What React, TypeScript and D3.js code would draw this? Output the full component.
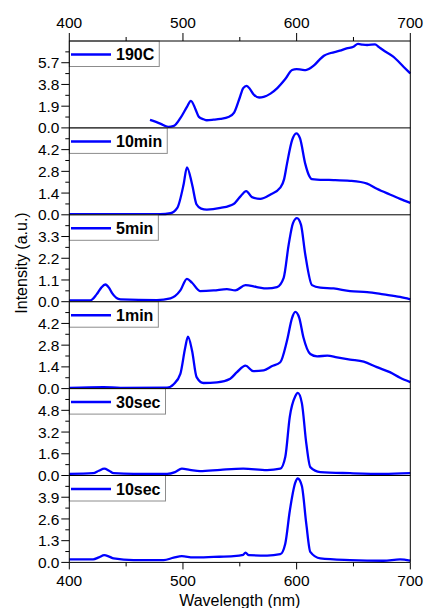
import React, { useMemo } from 'react';
import * as d3 from 'd3';

const xMajorTicks = [400, 500, 600, 700];
const xMinorTicks = [450, 550, 650];
const seriesNames = ['190C', '10min', '5min', '1min', '30sec', '10sec'];
const yTickSteps = [1.9, 1.4, 1.1, 1.4, 1.6, 1.3];

const wl190C = [471, 480, 487, 492, 498, 503.5, 507, 511, 514, 518, 521, 527, 533, 540, 545, 550, 553, 556, 559, 562, 567, 571, 577, 583, 590, 596, 600, 604, 608, 615, 620, 624, 630, 638, 644, 650, 654, 658, 662, 669, 672, 676, 685, 694, 700];
const val190C = [0.70, 0.38, 0.09, 0.17, 0.9, 1.84, 2.37, 1.64, 0.96, 0.76, 0.67, 0.72, 0.79, 0.95, 1.34, 2.66, 3.48, 3.68, 3.39, 2.95, 2.66, 2.72, 3.0, 3.48, 4.27, 5.06, 5.14, 5.1, 5.06, 5.44, 5.95, 6.31, 6.55, 6.75, 6.96, 7.1, 7.34, 7.28, 7.25, 7.31, 7.1, 6.81, 6.23, 5.35, 4.76];

const wl10min = [400, 440, 480, 489, 495, 500.6, 503.5, 508, 512, 516, 521, 533, 544.6, 550, 555.7, 560.7, 568, 577, 585.6, 589, 591.5, 596, 599.7, 603, 607.6, 610.5, 613.5, 624, 632.5, 647, 662, 670.6, 682, 691, 700];
const val10min = [0.04, 0.04, 0.04, 0.1, 0.44, 1.97, 3.06, 1.97, 0.66, 0.4, 0.33, 0.44, 0.7, 1.14, 1.53, 1.14, 1.03, 1.31, 1.75, 2.3, 3.28, 4.81, 5.25, 4.92, 3.28, 2.6, 2.3, 2.25, 2.24, 2.19, 2.01, 1.68, 1.31, 1.03, 0.77];

const wl5min = [400, 418.5, 424, 428, 431.7, 435, 437.5, 445, 477, 489, 497.7, 503.5, 508, 515, 527, 538.7, 546, 555, 565, 574, 582.7, 588.6, 593, 596.8, 600.3, 603.8, 607.6, 613.5, 620.8, 632.5, 647, 662, 676.5, 691, 700];
const val5min = [0.07, 0.07, 0.37, 0.7, 0.87, 0.7, 0.45, 0.12, 0.08, 0.17, 0.57, 1.16, 0.96, 0.54, 0.57, 0.64, 0.57, 0.84, 0.74, 0.67, 0.74, 1.21, 2.89, 3.98, 4.23, 3.9, 2.39, 0.84, 0.71, 0.67, 0.54, 0.49, 0.37, 0.24, 0.12];

const wl1min = [400, 430, 445, 486, 491.8, 497.7, 502, 504.4, 508, 512, 518, 530, 541.6, 547.5, 555, 562, 571, 578, 585.6, 591.5, 596, 598.8, 602.3, 606, 612, 618, 627, 635.5, 647, 659, 670.6, 682, 691, 700];
const val1min = [0.04, 0.1, 0.04, 0.06, 0.28, 0.95, 2.65, 3.35, 2.44, 0.74, 0.36, 0.4, 0.64, 1.06, 1.48, 1.12, 1.17, 1.44, 1.7, 3.08, 4.56, 4.94, 4.56, 3.29, 2.23, 2.08, 2.12, 2.01, 1.87, 1.74, 1.38, 1.06, 0.7, 0.42];

const wl30sec = [400, 421, 426, 430.8, 435, 439, 456.6, 486, 493, 499, 506, 515, 533, 553, 574, 585.6, 590, 594, 598.8, 601, 604.6, 608.5, 612, 620.8, 647, 676.5, 700];
const val30sec = [0.12, 0.17, 0.35, 0.5, 0.35, 0.17, 0.12, 0.12, 0.25, 0.5, 0.42, 0.32, 0.42, 0.5, 0.4, 0.5, 1.36, 4.34, 5.83, 6.08, 5.33, 2.36, 0.62, 0.25, 0.17, 0.12, 0.17];

const wl10sec = [400, 421, 426, 430.8, 435, 439, 456.6, 483, 491.8, 499, 509, 527, 544.6, 553, 555, 558, 574, 585.6, 590, 594, 598.8, 601, 604.6, 608.5, 612, 620.8, 647, 676.5, 691, 700];
const val10sec = [0.18, 0.18, 0.3, 0.43, 0.35, 0.24, 0.14, 0.14, 0.28, 0.37, 0.3, 0.33, 0.37, 0.45, 0.59, 0.43, 0.41, 0.49, 1.12, 3.09, 4.77, 5.02, 4.57, 2.3, 0.63, 0.24, 0.14, 0.1, 0.18, 0.1];

const seriesWl = [wl190C, wl10min, wl5min, wl1min, wl30sec, wl10sec];
const seriesVal = [val190C, val10min, val5min, val1min, val30sec, val10sec];

const FONT = '"Liberation Sans", Arial, Helvetica, sans-serif';
const W = 425;
const H = 608;
const left = 69.3;
const right = 410.3;
const top0 = 41;
const pitch = 86.9;
const BLUE = '#0000ff';

function measure(text: string, font: string): number {
  if (typeof document === 'undefined') return text.length * 9;
  const c = document.createElement('canvas');
  const ctx = c.getContext('2d');
  if (!ctx) return text.length * 9;
  ctx.font = font;
  return ctx.measureText(text).width;
}

export default function App() {
  const x = d3.scaleLinear().domain([400, 700]).range([left, right]);
  const fmt = d3.format('.1f');
  const legendWidths = useMemo(
    () => seriesNames.map((n) => measure(n, `bold 16px ${FONT}`)),
    []
  );
  const bottom = top0 + pitch * seriesNames.length;

  return (
    <svg
      width={W}
      height={H}
      style={{ position: 'absolute', left: 0, top: 0, background: '#fff' }}
      fontFamily={FONT}
    >
      <rect x={0} y={0} width={W} height={H} fill="#fff" />
      {seriesNames.map((name, i) => {
        const pTop = top0 + pitch * i;
        const pBot = pTop + pitch;
        const step = yTickSteps[i];
        const y = d3.scaleLinear().domain([0, step * 4]).range([pBot, pTop]);
        const line = d3
          .line<number>()
          .x((_, k) => x(seriesWl[i][k]))
          .y((v) => y(v))
          .curve(d3.curveMonotoneX);
        const majors = [0, 1, 2, 3].map((k) => k * step);
        const minors = [0.5, 1.5, 2.5, 3.5].map((k) => k * step);
        const lw = legendWidths[i];
        return (
          <g key={name}>
            <path d={line(seriesVal[i]) || ''} fill="none" stroke={BLUE} strokeWidth={2.3} strokeLinejoin="round" />
            <rect x={left} y={pTop} width={116 - left + lw + 5} height={25.5} fill="#fff" stroke="#8c8c8c" strokeWidth={1} />
            <line x1={71} x2={111} y1={pTop + 13.5} y2={pTop + 13.5} stroke={BLUE} strokeWidth={2.5} />
            <text x={116} y={pTop + 19} fontSize={16} fontWeight="bold" fill="#000">{name}</text>
            <line x1={left} x2={right} y1={pTop} y2={pTop} stroke="#000" strokeWidth={1} />
            {majors.map((v) => (
              <g key={'M' + v}>
                <line x1={left - 8} x2={left} y1={y(v)} y2={y(v)} stroke="#000" strokeWidth={1} />
                <text x={59.5} y={y(v)} dy="0.36em" fontSize={15.5} textAnchor="end" fill="#000">{fmt(v)}</text>
              </g>
            ))}
            {minors.map((v) => (
              <line key={'m' + v} x1={left - 4} x2={left} y1={y(v)} y2={y(v)} stroke="#000" strokeWidth={1} />
            ))}
          </g>
        );
      })}
      <line x1={left} x2={right} y1={bottom} y2={bottom} stroke="#000" strokeWidth={1} />
      <line x1={left} x2={left} y1={top0} y2={bottom} stroke="#000" strokeWidth={1} />
      <line x1={right} x2={right} y1={top0} y2={bottom} stroke="#000" strokeWidth={1} />
      {xMajorTicks.map((t) => (
        <g key={'tt' + t}>
          <line x1={x(t)} x2={x(t)} y1={top0 - 8} y2={top0} stroke="#000" strokeWidth={1} />
          <text x={x(t)} y={27.5} fontSize={15.5} textAnchor="middle" fill="#000">{t}</text>
        </g>
      ))}
      {xMinorTicks.map((t) => (
        <line key={'tm' + t} x1={x(t)} x2={x(t)} y1={top0 - 4} y2={top0} stroke="#000" strokeWidth={1} />
      ))}
      {xMajorTicks.map((t) => (
        <g key={'bt' + t}>
          <line x1={x(t)} x2={x(t)} y1={bottom} y2={bottom + 7} stroke="#000" strokeWidth={1} />
          <text x={x(t)} y={586} fontSize={15.5} textAnchor="middle" fill="#000">{t}</text>
        </g>
      ))}
      {xMinorTicks.map((t) => (
        <line key={'bm' + t} x1={x(t)} x2={x(t)} y1={bottom} y2={bottom + 4} stroke="#000" strokeWidth={1} />
      ))}
      <text x={(left + right) / 2} y={605.5} fontSize={16} textAnchor="middle" fill="#000">Wavelength (nm)</text>
      <text
        transform={`translate(27, 263) rotate(-90)`}
        fontSize={16}
        textAnchor="middle"
        fill="#000"
      >
        Intensity (a.u.)
      </text>
    </svg>
  );
}
